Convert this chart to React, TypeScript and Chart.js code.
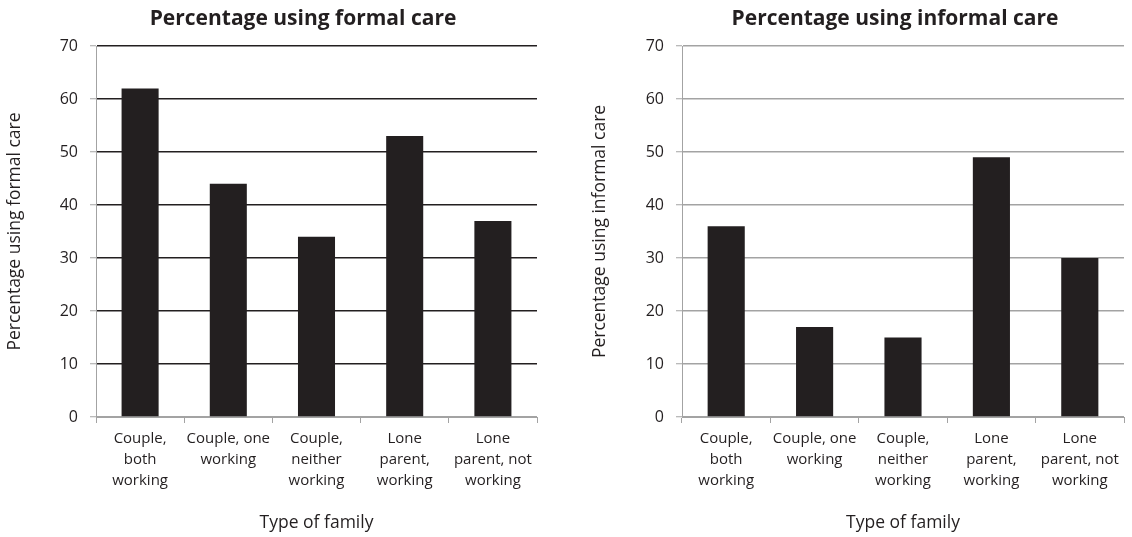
import React, { useEffect, useRef } from "react";
import { Chart, registerables } from "chart.js";

Chart.register(...registerables);

const categories: string[][] = [
  ["Couple,", "both", "working"],
  ["Couple, one", "working"],
  ["Couple,", "neither", "working"],
  ["Lone", "parent,", "working"],
  ["Lone", "parent, not", "working"],
];
const formalCare: number[] = [62, 44, 34, 53, 37];
const informalCare: number[] = [36, 17, 15, 49, 30];
const yTicks: number[] = [0, 10, 20, 30, 40, 50, 60, 70];

const FONT = "'Open Sans', 'Noto Sans', sans-serif";
const BAR = "#231f20";
const AXIS = "#a3a3a3";

const titlePlugin = {
  id: "sideTitle",
  afterDraw(chart: any, _args: any, opts: any) {
    const ctx = chart.ctx;
    ctx.save();
    ctx.font = `bold ${opts.size}px ${FONT}`;
    ctx.fillStyle = "#231f20";
    ctx.textAlign = "center";
    ctx.textBaseline = "middle";
    ctx.fillText(opts.text, opts.x, opts.y);
    ctx.restore();
  },
};

type PanelProps = {
  left: number;
  width: number;
  values: number[];
  title: string;
  yTitle: string;
  gridColor: string;
  gridWidth: number;
  yAxisWidth: number;
  yTitlePad: number;
  padRight: number;
  titleX: number;
};

function Panel(p: PanelProps) {
  const ref = useRef<HTMLCanvasElement>(null);
  useEffect(() => {
    if (!ref.current) return;
    const chart = new Chart(ref.current, {
      type: "bar",
      data: {
        labels: categories,
        datasets: [
          {
            data: p.values,
            backgroundColor: BAR,
            borderWidth: 0,
            barPercentage: 0.42,
            categoryPercentage: 1,
          },
        ],
      },
      plugins: [titlePlugin],
      options: {
        responsive: false,
        animation: false,
        layout: { padding: { top: 46, right: p.padRight, bottom: 0, left: 0 } },
        plugins: {
          legend: { display: false },
          tooltip: { enabled: false },
          title: { display: false },
          sideTitle: { text: p.title, x: p.titleX, y: 19, size: 21 },
        } as any,
        scales: {
          x: {
            grid: {
              display: true,
              offset: true,
              drawOnChartArea: false,
              drawTicks: true,
              tickLength: 6,
              tickColor: AXIS,
              tickWidth: 1,
            },
            border: { display: true, color: AXIS, width: 1 },
            ticks: {
              color: "#231f20",
              font: { family: FONT, size: 15, lineHeight: 1.4 },
              padding: 5,
              maxRotation: 0,
              autoSkip: false,
            },
            title: {
              display: true,
              text: "Type of family",
              color: "#231f20",
              font: { family: FONT, size: 17.5, lineHeight: 1.2 },
              padding: { top: 0, bottom: 3.5 },
            },
            afterFit(scale: any) {
              scale.height = 120;
            },
          },
          y: {
            min: 0,
            max: 70,
            afterBuildTicks(scale: any) {
              scale.ticks = yTicks.map((v) => ({ value: v }));
            },
            grid: {
              color: (c: any) => (c.tick && c.tick.value === 0 ? AXIS : p.gridColor),
              lineWidth: p.gridWidth,
              drawTicks: true,
              tickLength: 6,
              tickColor: AXIS,
              tickWidth: 1,
            },
            border: { display: true, color: AXIS, width: 1 },
            ticks: {
              color: "#231f20",
              font: { family: FONT, size: 16 },
              padding: 12,
            },
            title: {
              display: true,
              text: p.yTitle,
              color: "#231f20",
              font: { family: FONT, size: 17.5, lineHeight: 1.2 },
              padding: { top: p.yTitlePad, bottom: 0 },
            },
            afterFit(scale: any) {
              scale.width = p.yAxisWidth;
            },
          },
        },
      } as any,
    });
    return () => chart.destroy();
  }, []);
  return (
    <div style={{ position: "absolute", left: p.left, top: 0, width: p.width, height: 537 }}>
      <canvas ref={ref} width={p.width} height={537} style={{ display: "block" }} />
    </div>
  );
}

export default function App() {
  return (
    <div
      style={{
        position: "absolute",
        left: 0,
        top: 0,
        width: 1132,
        height: 537,
        background: "#ffffff",
        overflow: "hidden",
      }}
    >
      <Panel
        left={0}
        width={566}
        values={formalCare}
        title="Percentage using formal care"
        yTitle="Percentage using formal care"
        gridColor="#231f20"
        gridWidth={1.5}
        yAxisWidth={96}
        yTitlePad={5}
        padRight={29}
        titleX={303}
      />
      <Panel
        left={566}
        width={566}
        values={informalCare}
        title="Percentage using informal care"
        yTitle="Percentage using informal care"
        gridColor="#a3a3a3"
        gridWidth={1.5}
        yAxisWidth={116}
        yTitlePad={23.5}
        padRight={8}
        titleX={329}
      />
    </div>
  );
}
